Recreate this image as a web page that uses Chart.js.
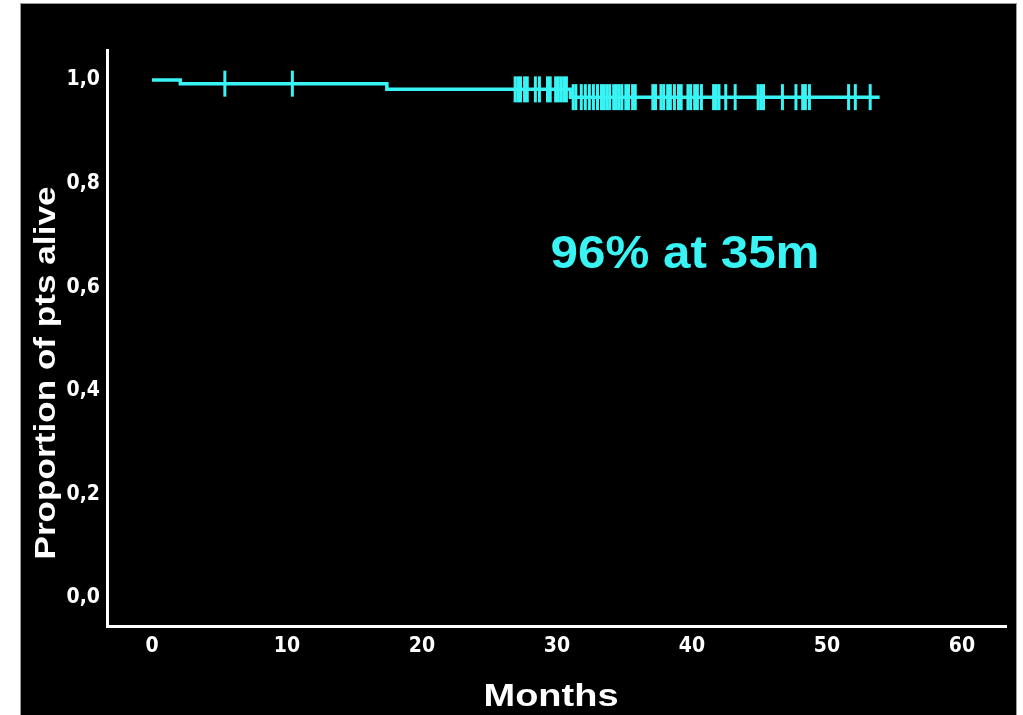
<!DOCTYPE html>
<html>
<head>
<meta charset="utf-8">
<script src="https://cdn.jsdelivr.net/npm/chart.js@4/dist/chart.umd.min.js"></script>
<style>
  html, body { margin: 0; padding: 0; background: #ffffff; }
  #wrap { position: absolute; left: 0; top: 0; width: 1023px; height: 715px; }
</style>
</head>
<body>
<div id="wrap"><canvas id="c" width="1023" height="715"></canvas></div>
<script>
// ---- data ----
const survTimes = [0, 2.1, 17.4, 31.0, 53.9];          // months where the KM level changes (last = end of follow-up)
const survProb  = [1.0, 0.993, 0.982, 0.967, 0.967];   // survival proportion from that time on
const censorTimes = [
  5.4, 10.4,
  26.9, 27.1, 27.3, 27.6, 27.8, 28.4, 28.7, 29.3, 29.5, 29.9, 30.1, 30.3, 30.5, 30.7,
  31.2, 31.4, 31.8, 32.1, 32.4, 32.7, 33.0, 33.3, 33.5, 33.7, 33.9, 34.2, 34.4, 34.6, 34.8,
  35.1, 35.3, 35.6, 35.8, 37.1, 37.3, 37.7, 37.9, 38.2, 38.4, 38.7, 39.0, 39.2, 39.7, 39.9,
  40.2, 40.4, 40.7, 41.6, 41.8, 42.0, 42.5, 43.2, 44.9, 45.1, 45.3, 46.7, 47.7, 48.2, 48.4,
  48.7, 51.6, 52.1, 53.2
];
const xTicks = [0, 10, 20, 30, 40, 50, 60];
const yTicks = [0, 0.2, 0.4, 0.6, 0.8, 1.0];
const yTickLabels = ['0,0', '0,2', '0,4', '0,6', '0,8', '1,0'];
const xTitle = 'Months';
const yTitle = 'Proportion of pts alive';
const noteText = '96% at 35m';

// ---- helpers ----
function levelAt(t) {
  let v = survProb[0];
  for (let i = 0; i < survTimes.length; i++) { if (survTimes[i] <= t) v = survProb[i]; }
  return v;
}
const CYAN = '#38f4f4';
const curvePts = survTimes.map((t, i) => ({ x: t, y: survProb[i] }));
const censorPts = censorTimes.map(t => ({ x: t, y: levelAt(t) }));

function fittedText(ctx, text, cx, baseY, targetW, px, color, rot) {
  ctx.save();
  ctx.font = 'bold ' + px + 'px "Liberation Sans", Arial, sans-serif';
  const w = ctx.measureText(text).width;
  ctx.translate(cx, baseY);
  if (rot) ctx.rotate(rot);
  ctx.scale(targetW / w, 1);
  ctx.fillStyle = color;
  ctx.textAlign = 'center';
  ctx.textBaseline = 'alphabetic';
  ctx.fillText(text, 0, 0);
  ctx.restore();
}

const framePlugin = {
  id: 'frame',
  beforeDraw(chart) {
    const ctx = chart.ctx;
    ctx.save();
    ctx.fillStyle = '#ffffff';
    ctx.fillRect(0, 0, chart.width, chart.height);
    ctx.fillStyle = '#000000';
    ctx.fillRect(21, 4, 995, 715);
    ctx.strokeStyle = '#9a9a9a';
    ctx.lineWidth = 1;
    ctx.strokeRect(20.5, 3.5, 996, 720);
    ctx.restore();
  },
  afterDraw(chart) {
    const ctx = chart.ctx;
    fittedText(ctx, xTitle, 551, 706, 135, 32, '#ffffff', 0);
    fittedText(ctx, yTitle, 55, 373, 373, 30, '#ffffff', -Math.PI / 2);
    fittedText(ctx, noteText, 685, 268, 269, 46, CYAN, 0);
  }
};

const tickFont = { family: '"Liberation Sans Narrow", "Arial Narrow", "DejaVu Sans Condensed", "Liberation Sans", sans-serif', size: 21, weight: 'bold' };

new Chart(document.getElementById('c'), {
  type: 'line',
  data: {
    datasets: [
      {
        label: 'survival',
        data: curvePts,
        stepped: 'before',
        borderColor: CYAN,
        borderWidth: 3.5,
        pointRadius: 0,
        fill: false
      },
      {
        label: 'censored',
        type: 'scatter',
        data: censorPts,
        pointStyle: 'line',
        rotation: 90,
        pointRadius: 13,
        pointHoverRadius: 13,
        borderColor: CYAN,
        backgroundColor: CYAN,
        pointBorderWidth: 3,
        borderWidth: 3,
        showLine: false
      }
    ]
  },
  options: {
    responsive: false,
    animation: false,
    events: [],
    layout: { padding: { top: 50, right: 17, left: 0, bottom: 0 } },
    plugins: { legend: { display: false }, tooltip: { enabled: false } },
    scales: {
      x: {
        type: 'linear',
        min: -3.33,
        max: 63.26,
        afterBuildTicks: s => { s.ticks = xTicks.map(v => ({ value: v })); },
        afterFit: s => { s.height = 89; },
        grid: { display: false, drawTicks: false },
        border: { display: true, color: '#ffffff', width: 3 },
        ticks: { color: '#ffffff', font: tickFont, padding: 8, maxRotation: 0, autoSkip: false,
                 callback: v => String(v) }
      },
      y: {
        type: 'linear',
        min: -0.054,
        max: 1.058,
        afterBuildTicks: s => { s.ticks = yTicks.map(v => ({ value: v })); },
        afterFit: s => { s.width = 107; },
        grid: { display: false, drawTicks: false },
        border: { display: true, color: '#ffffff', width: 3 },
        ticks: { color: '#ffffff', font: tickFont, padding: 7, autoSkip: false,
                 callback: (v) => { const i = yTicks.findIndex(t => Math.abs(t - v) < 1e-6); return i >= 0 ? yTickLabels[i] : ''; } }
      }
    }
  },
  plugins: [framePlugin]
});
</script>
</body>
</html>
